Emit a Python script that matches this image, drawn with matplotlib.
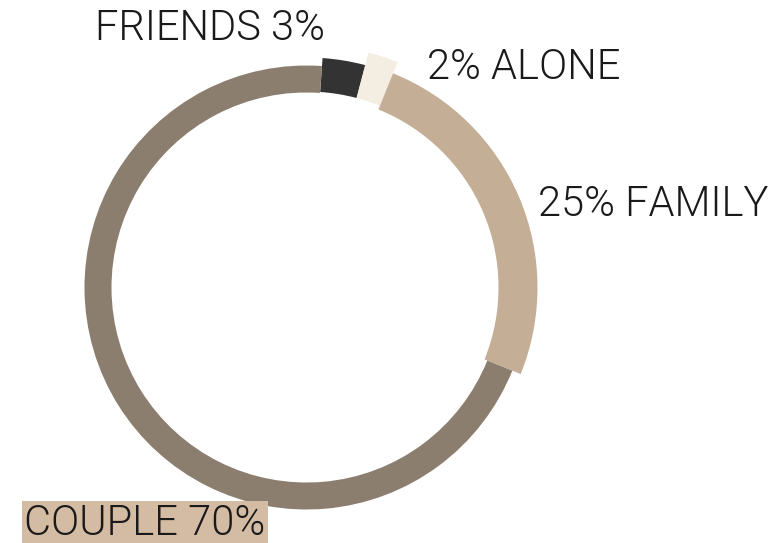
import matplotlib
matplotlib.use("Agg")
import matplotlib.pyplot as plt

# Share of trips by travel company
labels = ["FRIENDS", "ALONE", "FAMILY", "COUPLE"]
shares = [3, 2, 25, 70]
colors = ["#333333", "#f4ede1", "#c4ae95", "#8c7e6f"]
outer_radii = [230, 243, 231, 222]
inner_radii = [196, 196, 192, 195]

W, H = 777, 543
fig = plt.figure(figsize=(W / 100, H / 100), dpi=100)
ax = fig.add_axes([0, 0, 1, 1])

cx, cy = 306.5, H - 287.5
wedges, _ = ax.pie(
    shares,
    colors=colors,
    startangle=86,
    counterclock=False,
    center=(cx, cy),
    radius=222,
    wedgeprops=dict(width=27, linewidth=0),
)
for w, ro, ri in zip(wedges, outer_radii, inner_radii):
    w.set_radius(ro)
    w.set_width(ro - ri)

ax.set_xlim(0, W)
ax.set_ylim(0, H)
ax.set_aspect("equal")
ax.axis("off")

font = dict(family=["Roboto", "DejaVu Sans"], weight=300, size=30,
            color="#1a1a1a", va="baseline")
ax.text(95, H - 40, f"{labels[0]} {shares[0]}%", ha="left", **font)
ax.text(427, H - 79, f"{shares[1]}% {labels[1]}", ha="left", **font)
ax.text(538, H - 216, f"{shares[2]}% {labels[2]}", ha="left", **font)
ax.text(24, H - 535, f"{labels[3]} {shares[3]}%", ha="left",
        bbox=dict(boxstyle="square,pad=0.06", fc="#d4bca4", ec="none"), **font)

fig.savefig("out.png", dpi=100)
